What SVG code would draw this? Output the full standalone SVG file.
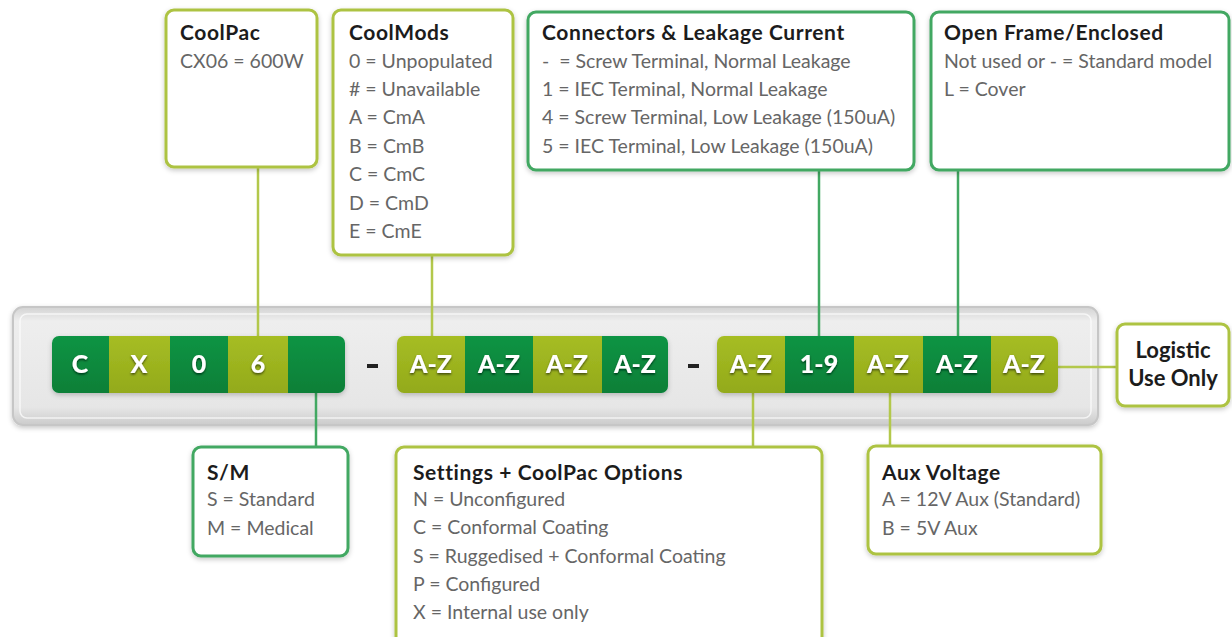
<svg xmlns="http://www.w3.org/2000/svg" width="1232" height="637" viewBox="0 0 1232 637">
<defs>
<filter id="sh" x="-10%" y="-10%" width="120%" height="130%"><feDropShadow dx="0" dy="2" stdDeviation="2.5" flood-color="#000" flood-opacity="0.22"/></filter>
<filter id="ts" x="-20%" y="-20%" width="140%" height="140%"><feDropShadow dx="0" dy="1.5" stdDeviation="0.8" flood-color="#000" flood-opacity="0.6"/></filter>
<linearGradient id="bar" x1="0" y1="0" x2="0" y2="1"><stop offset="0" stop-color="#d3d3d3"/><stop offset="0.12" stop-color="#eeeeee"/><stop offset="0.85" stop-color="#e6e6e6"/><stop offset="1" stop-color="#cbcbcb"/></linearGradient>
<linearGradient id="dk" x1="0" y1="0" x2="0" y2="1"><stop offset="0" stop-color="#0a9444"/><stop offset="1" stop-color="#077f37"/></linearGradient>
<linearGradient id="ol" x1="0" y1="0" x2="0" y2="1"><stop offset="0" stop-color="#a6bd24"/><stop offset="1" stop-color="#93aa1a"/></linearGradient>
<clipPath id="c1"><rect x="52" y="336" width="293" height="57" rx="7"/></clipPath>
<clipPath id="c2"><rect x="397" y="336" width="271" height="57" rx="7"/></clipPath>
<clipPath id="c3"><rect x="717" y="336" width="341" height="57" rx="7"/></clipPath>
</defs>
<style>
.box{fill:#fff;stroke-width:3}
.g{stroke:#42a862}
.y{stroke:#adc343}
.t{font-family:Lato,"Open Sans",sans-serif;font-weight:bold;font-size:21px;letter-spacing:0.6px;fill:#1c1c1c}
.b{font-family:Lato,"Open Sans",sans-serif;font-size:19.5px;fill:#666;white-space:pre}
.lt{font-family:Lato,"Open Sans",sans-serif;font-weight:bold;font-size:22px;fill:#1c1c1c;text-anchor:middle}
.lg{stroke:#42a862;stroke-width:2.5;fill:none}
.ly{stroke:#b3c84b;stroke-width:2.5;fill:none}
.dk{fill:url(#dk)}
.ol{fill:url(#ol)}
.ct{font-family:Lato,"Open Sans",sans-serif;font-weight:900;font-size:25px;fill:#fff;text-anchor:middle}
</style>
<rect width="1232" height="637" fill="#fff"/>
<g id="bar-bg">
<rect x="13" y="307" width="1085" height="118" rx="10" fill="url(#bar)" stroke="#c6c6c6" stroke-width="2" filter="url(#sh)"/>
<rect x="20" y="314" width="1071" height="104" rx="7" fill="none" stroke="#ffffff" stroke-opacity="0.7" stroke-width="1.5"/>
</g>
<g id="connectors">
<line class="ly" x1="258" y1="167" x2="258" y2="336"/>
<line class="ly" x1="432" y1="255" x2="432" y2="336"/>
<line class="lg" x1="819" y1="170" x2="819" y2="336"/>
<line class="lg" x1="958" y1="170" x2="958" y2="336"/>
<line class="lg" x1="316" y1="393" x2="316" y2="447"/>
<line class="ly" x1="753" y1="393" x2="753" y2="447"/>
<line class="ly" x1="890" y1="393" x2="890" y2="447"/>
<line class="ly" x1="1058" y1="367" x2="1117" y2="367"/>
</g>
<g id="code-group-1" filter="url(#sh)">
<g clip-path="url(#c1)">
<rect class="dk" x="52" y="336" width="57" height="57"/>
<rect class="ol" x="109" y="336" width="61" height="57"/>
<rect class="dk" x="170" y="336" width="58" height="57"/>
<rect class="ol" x="228" y="336" width="60" height="57"/>
<rect class="dk" x="288" y="336" width="57" height="57"/>
</g>
<g filter="url(#ts)">
<text class="ct" x="80" y="373">C</text>
<text class="ct" x="139" y="373">X</text>
<text class="ct" x="199" y="373">0</text>
<text class="ct" x="258" y="373">6</text>
</g>
</g>
<rect x="367" y="364" width="11" height="4" fill="#222"/>
<g id="code-group-2" filter="url(#sh)">
<g clip-path="url(#c2)">
<rect class="ol" x="397" y="336" width="68" height="57"/>
<rect class="dk" x="465" y="336" width="68" height="57"/>
<rect class="ol" x="533" y="336" width="69" height="57"/>
<rect class="dk" x="602" y="336" width="66" height="57"/>
</g>
<g filter="url(#ts)">
<text class="ct" x="431" y="373">A-Z</text>
<text class="ct" x="499" y="373">A-Z</text>
<text class="ct" x="567" y="373">A-Z</text>
<text class="ct" x="635" y="373">A-Z</text>
</g>
</g>
<rect x="688" y="364" width="11" height="4" fill="#222"/>
<g id="code-group-3" filter="url(#sh)">
<g clip-path="url(#c3)">
<rect class="ol" x="717" y="336" width="68" height="57"/>
<rect class="dk" x="785" y="336" width="69" height="57"/>
<rect class="ol" x="854" y="336" width="69" height="57"/>
<rect class="dk" x="923" y="336" width="68" height="57"/>
<rect class="ol" x="991" y="336" width="67" height="57"/>
</g>
<g filter="url(#ts)">
<text class="ct" x="751" y="373">A-Z</text>
<text class="ct" x="819" y="373">1-9</text>
<text class="ct" x="888" y="373">A-Z</text>
<text class="ct" x="957" y="373">A-Z</text>
<text class="ct" x="1024" y="373">A-Z</text>
</g>
</g>
<g id="coolpac">
<rect class="box y" x="166" y="10" width="151" height="157" rx="8" filter="url(#sh)"/>
<text class="t" x="180" y="40">CoolPac</text>
<text class="b" x="180" y="68">CX06 = 600W</text>
</g>
<g id="coolmods">
<rect class="box y" x="333" y="10" width="180" height="245" rx="8" filter="url(#sh)"/>
<text class="t" x="349" y="40">CoolMods</text>
<text class="b" x="349" y="68">0 = Unpopulated</text>
<text class="b" x="349" y="96"># = Unavailable</text>
<text class="b" x="349" y="124">A = CmA</text>
<text class="b" x="349" y="153">B = CmB</text>
<text class="b" x="349" y="181">C = CmC</text>
<text class="b" x="349" y="210">D = CmD</text>
<text class="b" x="349" y="238">E = CmE</text>
</g>
<g id="connectors-leakage">
<rect class="box g" x="528" y="12" width="386" height="158" rx="8" filter="url(#sh)"/>
<text class="t" x="542" y="40">Connectors &amp; Leakage Current</text>
<text class="b" x="542" y="68">-  = Screw Terminal, Normal Leakage</text>
<text class="b" x="542" y="96">1 = IEC Terminal, Normal Leakage</text>
<text class="b" x="542" y="124">4 = Screw Terminal, Low Leakage (150uA)</text>
<text class="b" x="542" y="153">5 = IEC Terminal, Low Leakage (150uA)</text>
</g>
<g id="open-frame">
<rect class="box g" x="931" y="12" width="298" height="158" rx="8" filter="url(#sh)"/>
<text class="t" x="944" y="40">Open Frame/Enclosed</text>
<text class="b" x="944" y="68">Not used or - = Standard model</text>
<text class="b" x="944" y="96">L = Cover</text>
</g>
<g id="sm">
<rect class="box g" x="193" y="447" width="155" height="109" rx="8" filter="url(#sh)"/>
<text class="t" x="207" y="480">S/M</text>
<text class="b" x="207" y="506">S = Standard</text>
<text class="b" x="207" y="535">M = Medical</text>
</g>
<g id="settings">
<rect class="box y" x="396" y="447" width="426" height="200" rx="8" filter="url(#sh)"/>
<text class="t" x="413" y="480">Settings + CoolPac Options</text>
<text class="b" x="413" y="506">N = Unconfigured</text>
<text class="b" x="413" y="534">C = Conformal Coating</text>
<text class="b" x="413" y="563">S = Ruggedised + Conformal Coating</text>
<text class="b" x="413" y="591">P = Configured</text>
<text class="b" x="413" y="619">X = Internal use only</text>
</g>
<g id="aux-voltage">
<rect class="box y" x="868" y="446" width="233" height="108" rx="8" filter="url(#sh)"/>
<text class="t" x="882" y="480">Aux Voltage</text>
<text class="b" x="882" y="506">A = 12V Aux (Standard)</text>
<text class="b" x="882" y="535">B = 5V Aux</text>
</g>
<g id="logistic">
<rect class="box y" x="1117" y="324" width="112" height="82" rx="8" filter="url(#sh)"/>
<text class="lt" x="1173" y="358">Logistic</text>
<text class="lt" x="1173" y="386">Use Only</text>
</g>
</svg>
